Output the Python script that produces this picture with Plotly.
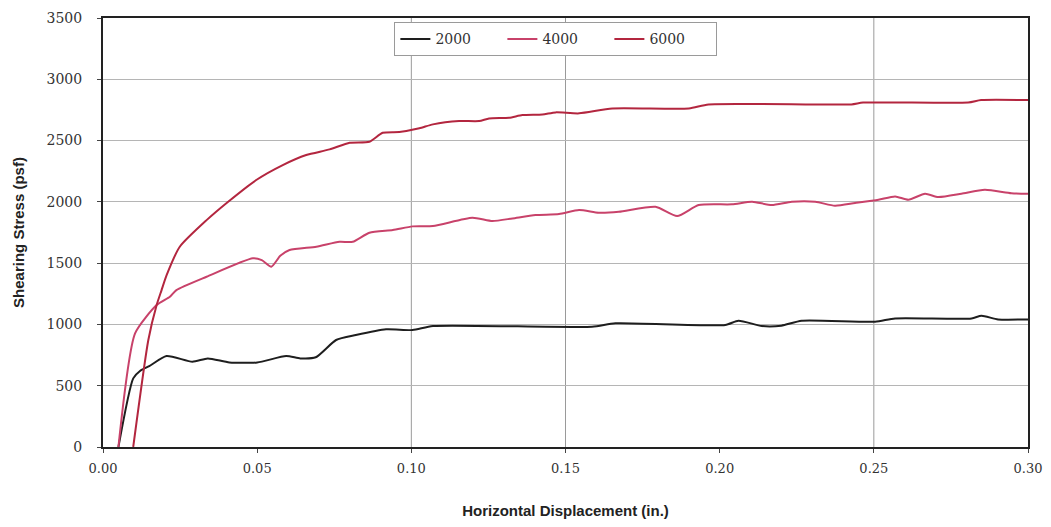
import plotly.graph_objects as go

# ---- data ----
x_2000 = [0.005, 0.0098, 0.012, 0.015, 0.0206, 0.029, 0.034, 0.041, 0.05, 0.0594, 0.064, 0.069,
          0.0756, 0.082, 0.0918, 0.1004, 0.107, 0.1586, 0.1662, 0.2018, 0.2061, 0.2137, 0.22,
          0.2266, 0.2504, 0.2569, 0.2817, 0.2849, 0.2903, 0.30]
y_2000 = [0, 560, 620, 660, 742, 696, 723, 690, 690, 742, 723, 732,
          873, 913, 960, 954, 987, 981, 1009, 995, 1030, 987, 990,
          1030, 1022, 1049, 1049, 1071, 1041, 1041]

x_4000 = [0.005, 0.0104, 0.0174, 0.0217, 0.0238, 0.0336, 0.0486, 0.0515, 0.0546, 0.0575, 0.0605,
          0.0692, 0.0767, 0.081, 0.0864, 0.094, 0.1004, 0.107, 0.1198, 0.1263, 0.1328, 0.1403,
          0.1479, 0.1544, 0.1608, 0.1673, 0.1792, 0.1862, 0.1932, 0.204, 0.2105, 0.2169, 0.2234,
          0.231, 0.2374, 0.2439, 0.2515, 0.2569, 0.2612, 0.2666, 0.2709, 0.2784, 0.286, 0.2946, 0.30]
y_4000 = [0, 927, 1158, 1226, 1280, 1389, 1539, 1525, 1471, 1560, 1607,
          1634, 1674, 1674, 1748, 1770, 1800, 1803, 1870, 1843, 1865, 1892,
          1900, 1933, 1911, 1919, 1960, 1884, 1974, 1980, 2001, 1974, 2001,
          2001, 1968, 1990, 2017, 2044, 2017, 2066, 2039, 2066, 2098, 2071, 2066]

x_6000 = [0.0098, 0.0147, 0.0174, 0.019, 0.0206, 0.0249, 0.0336, 0.0406, 0.0497, 0.0583, 0.0659,
          0.0735, 0.08, 0.0864, 0.0907, 0.0961, 0.1026, 0.107, 0.1155, 0.122, 0.1252, 0.1317,
          0.136, 0.1425, 0.1468, 0.1544, 0.1652, 0.19, 0.1964, 0.2427, 0.2465, 0.2806, 0.2848, 0.30]
y_6000 = [0, 873, 1158, 1280, 1400, 1634, 1851, 2001, 2178, 2300, 2382,
          2428, 2482, 2490, 2564, 2570, 2600, 2632, 2659, 2659, 2681, 2686,
          2708, 2713, 2730, 2722, 2762, 2762, 2795, 2795, 2810, 2810, 2830, 2830]

x_ticks = [0.00, 0.05, 0.10, 0.15, 0.20, 0.25, 0.30]
x_tick_labels = ["0.00", "0.05", "0.10", "0.15", "0.20", "0.25", "0.30"]
y_ticks = [0, 500, 1000, 1500, 2000, 2500, 3000, 3500]
v_grid = [0.10, 0.15, 0.25]

fig = go.Figure()
series = [("2000", x_2000, y_2000, "#1e1e1e"),
          ("4000", x_4000, y_4000, "#c8426a"),
          ("6000", x_6000, y_6000, "#b3263f")]
for name, xs, ys, col in series:
    fig.add_trace(go.Scatter(x=xs, y=ys, name=name, mode="lines",
                             line=dict(color=col, width=2, shape="spline", smoothing=0.6)))

for xv in v_grid:
    fig.add_shape(type="line", xref="x", yref="paper", x0=xv, x1=xv, y0=0, y1=1,
                  line=dict(color="#9a9a9a", width=1), layer="below")

# page body has an 8px default margin: size the figure so the page does not overflow
fig.update_layout(
    width=1035, height=511,
    margin=dict(l=95, r=15, t=10, b=72, autoexpand=False),
    paper_bgcolor="white", plot_bgcolor="white",
    showlegend=True,
    legend=dict(orientation="h", x=0.315, y=0.99, xanchor="left", yanchor="top",
                bordercolor="#9a9a9a", borderwidth=1, bgcolor="white",
                font=dict(family="DejaVu Serif", size=14, color="#333"),
                entrywidth=62, entrywidthmode="pixels", tracegroupgap=0),
    font=dict(family="DejaVu Serif", size=14, color="#333"),
)
fig.update_xaxes(range=[0, 0.30], tickvals=x_ticks, ticktext=x_tick_labels,
                 showgrid=False, zeroline=False, automargin=False, ticklabeloverflow="allow",
                 showline=True, linecolor="#222", linewidth=2, mirror=True,
                 ticks="outside", ticklen=4, tickcolor="#444", ticklabelstandoff=4,
                 tickfont=dict(family="DejaVu Serif", size=13, color="#333"),
                 title=dict(text="<b>Horizontal Displacement (in.)</b>", standoff=33,
                            font=dict(family="Liberation Sans", size=15, color="#222")))
fig.update_yaxes(range=[0, 3500], tickvals=y_ticks,
                 showgrid=True, gridcolor="#b5b5b5", gridwidth=1, zeroline=False, automargin=False,
                 showline=True, linecolor="#222", linewidth=2, mirror=True,
                 ticks="outside", ticklen=4, tickcolor="#444", ticklabelstandoff=12,
                 tickfont=dict(family="DejaVu Serif", size=14, color="#333"),
                 title=dict(text="<b>Shearing Stress (psf)</b>", standoff=18,
                            font=dict(family="Liberation Sans", size=15, color="#222")))

fig.write_html("out.html")
